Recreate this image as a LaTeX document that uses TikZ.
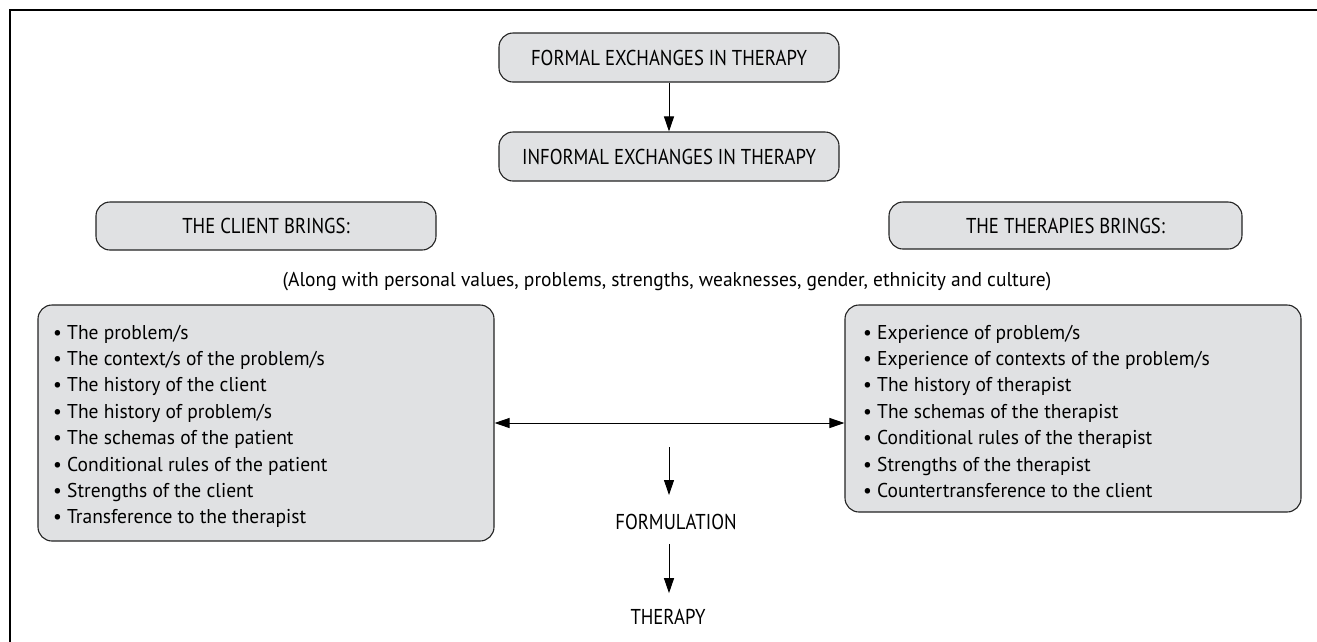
\documentclass[tikz,border=0pt]{standalone}
\usepackage{fontspec}
\setmainfont{PT Sans}
\newfontfamily\capsfont[FakeStretch=0.87]{PT Sans}
\newfontfamily\bodyfont[FakeStretch=0.975]{PT Sans}
\usetikzlibrary{arrows.meta}
\definecolor{boxgray}{RGB}{224,225,227}
\definecolor{edge}{RGB}{35,35,35}
\begin{document}
\begin{tikzpicture}[x=1pt,y=-1pt,
  box/.style={draw=edge, line width=1.1pt, fill=boxgray, rounded corners=14pt, inner sep=0pt},
  txt/.style={font=\bodyfont\fontsize{20}{26.4}\selectfont, inner sep=0pt, text=black},
  captxt/.style={font=\capsfont\fontsize{21.5}{26}\selectfont, inner sep=0pt, text=black},
  item/.style={txt, anchor=base west},
  arr/.style={-{Triangle[length=15pt,width=10pt]}, line width=1pt},
  darr/.style={{Triangle[length=15pt,width=10pt]}-{Triangle[length=15pt,width=10pt]}, line width=1pt}]
\useasboundingbox (0,0) rectangle (1317,641);
\clip (0,0) rectangle (1317,641);
\draw[line width=2.2pt] (10,10) rectangle (1340,670);

\node[box, captxt, minimum width=340pt, minimum height=49pt] (formal) at (669,57.5) {FORMAL EXCHANGES IN THERAPY};
\node[box, captxt, minimum width=340pt, minimum height=49pt] (informal) at (669,156.5) {INFORMAL EXCHANGES IN THERAPY};
\node[box, captxt, minimum width=340pt, minimum height=48pt] (client) at (266,226) {THE CLIENT BRINGS:};
\node[box, captxt, minimum width=353pt, minimum height=47pt] (therapies) at (1065.5,225.5) {THE THERAPIES BRINGS:};
\node[txt] (paren) at (667,282) {(Along with personal values, problems, strengths, weaknesses, gender, ethnicity and culture)};

\node[box, minimum width=456pt, minimum height=236pt] (leftbox) at (266,423) {};
\node[box, minimum width=456pt, minimum height=207pt] (rightbox) at (1073,408.5) {};

\foreach \t [count=\i] in {The problem/s, The context/s of the problem/s, The history of the client, The history of problem/s, The schemas of the patient, Conditional rules of the patient, Strengths of the client, Transference to the therapist}
  \node[item] (L\i) at (53,{339+26.4*(\i-1)}) {\textbullet\ \t};
\foreach \t [count=\i] in {Experience of problem/s, Experience of contexts of the problem/s, The history of therapist, The schemas of the therapist, Conditional rules of the therapist, Strengths of the therapist, Countertransference to the client}
  \node[item] (R\i) at (863,{339+26.4*(\i-1)}) {\textbullet\ \t};

\node[captxt] (formulation) at (676,522) {FORMULATION};
\node[captxt] (therapy) at (668,617) {THERAPY};

\coordinate (mcol) at (669,0);
\draw[arr] (formal.south -| mcol) -- (informal.north -| mcol);
\draw[darr] (leftbox.east) -- (rightbox.west |- leftbox.east);
\draw[arr, shorten <=24pt, shorten >=19pt] (mcol |- leftbox.east) -- (mcol |- formulation.north);
\draw[arr, shorten <=14pt, shorten >=16pt] (mcol |- formulation.south) -- (mcol |- therapy.north);
\end{tikzpicture}
\end{document}
